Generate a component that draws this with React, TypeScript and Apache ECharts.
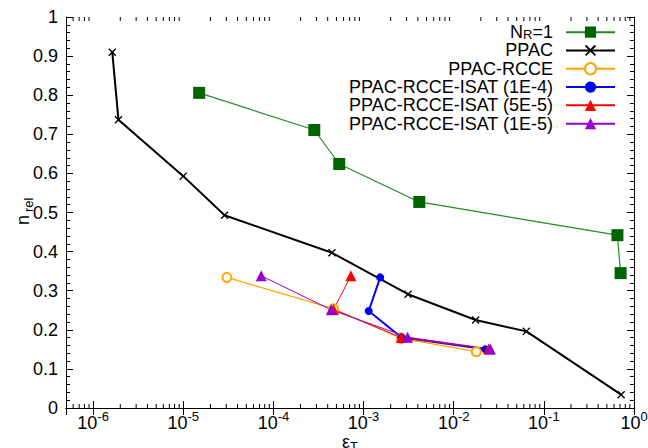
import React, { useEffect, useRef } from "react";
import * as echarts from "echarts";

const seriesNames = [
  "N_R=1",
  "PPAC",
  "PPAC-RCCE",
  "PPAC-RCCE-ISAT (1E-4)",
  "PPAC-RCCE-ISAT (5E-5)",
  "PPAC-RCCE-ISAT (1E-5)",
];

const nr1Eps = [1.5e-5, 2.84e-4, 5.37e-4, 4.15e-3, 0.655, 0.71];
const nr1Val = [0.806, 0.711, 0.624, 0.527, 0.442, 0.345];

const ppacEps = [1.63e-6, 1.91e-6, 1.0e-5, 2.87e-5, 4.46e-4, 3.11e-3, 0.0175, 0.064, 0.72];
const ppacVal = [0.91, 0.737, 0.593, 0.493, 0.397, 0.291, 0.225, 0.196, 0.034];

const rcceEps = [3.05e-5, 4.65e-4, 2.62e-3, 0.0178];
const rcceVal = [0.334, 0.254, 0.178, 0.144];

const isat1e4Eps = [1.53e-3, 1.14e-3, 2.62e-3, 0.0224];
const isat1e4Val = [0.334, 0.248, 0.181, 0.15];

const isat5e5Eps = [7.24e-4, 4.65e-4, 2.62e-3, 0.0244];
const isat5e5Val = [0.338, 0.252, 0.18, 0.151];

const isat1e5Eps = [7.32e-5, 4.38e-4, 3.08e-3, 0.0255];
const isat1e5Val = [0.338, 0.251, 0.181, 0.151];

const xMin = 5e-7;
const xMax = 1;

const FONT = "Liberation Sans, Arial, Helvetica, sans-serif";

function zip(xs: number[], ys: number[]) {
  return xs.map((x, i) => [x, ys[i]]);
}

const CROSS =
  "path://M0,1.2L1.2,0L5,3.8L8.8,0L10,1.2L6.2,5L10,8.8L8.8,10L5,6.2L1.2,10L0,8.8L3.8,5Z";

export default function App() {
  const ref = useRef<HTMLDivElement>(null);
  useEffect(() => {
    if (!ref.current) return;
    const chart = echarts.init(ref.current, null, { renderer: "svg" });

    const minorTicks: number[][] = [];
    for (let n = -7; n <= -1; n++) {
      for (let k = 2; k <= 9; k++) {
        const v = k * Math.pow(10, n);
        if (v > xMin && v < xMax) minorTicks.push([v, 0]);
      }
    }

    const logLabel = (v: number) => {
      const l = Math.log10(v);
      const r = Math.round(l);
      if (Math.abs(l - r) > 1e-6) return "";
      return `{b|10}{s|${r}}`;
    };

    const axisCommon = {
      axisLine: { show: true, lineStyle: { color: "#000", width: 1 } },
      axisTick: { show: true, inside: true, length: 7, lineStyle: { color: "#000" } },
      splitLine: { show: false },
    };

    const option: any = {
      animation: false,
      backgroundColor: "#fff",
      grid: { left: 66, right: 14, top: 17, bottom: 40, containLabel: false, outerBoundsMode: "none" },
      legend: {
        data: seriesNames,
        orient: "vertical",
        align: "right",
        right: 32,
        top: 23,
        padding: 0,
        itemGap: 0,
        itemWidth: 49,
        itemHeight: 14,
        textStyle: {
          fontFamily: FONT,
          fontSize: 18,
          color: "#000",
          lineHeight: 18.3,
          padding: [0, 8, 0, 0],
          rich: {
            a: { fontFamily: FONT, fontSize: 18, color: "#000", lineHeight: 18.3 },
            sub: { fontFamily: FONT, fontSize: 13, color: "#000", lineHeight: 14, padding: [4, 0, 0, 0] },
          },
        },
        formatter: (name: string) => (name === "N_R=1" ? "{a|N}{sub|R}{a|=1}" : name),
      },
      graphic: [
        {
          type: "group",
          x: 23,
          y: 212,
          rotation: Math.PI / 2,
          children: [
            {
              type: "text",
              x: -8,
              y: 0,
              style: {
                text: "n",
                font: `18px ${FONT}`,
                fill: "#000",
                align: "center",
                verticalAlign: "middle",
              },
            },
            {
              type: "text",
              x: 0,
              y: 5,
              style: {
                text: "rel",
                font: `13px ${FONT}`,
                fill: "#000",
                align: "left",
                verticalAlign: "middle",
              },
            },
          ],
        },
      ],
      xAxis: [
        {
          type: "log",
          min: xMin,
          max: xMax,
          splitNumber: 6,
          logBase: 10,
          ...axisCommon,
          axisLabel: {
            margin: 5,
            formatter: logLabel,
            rich: {
              b: { fontFamily: FONT, fontSize: 18, color: "#000", lineHeight: 20 },
              s: { fontFamily: FONT, fontSize: 13, color: "#000", lineHeight: 13, padding: [0, 0, 13, 0] },
            },
          },
          name: "{a|ε}{s|T}",
          nameLocation: "middle",
          nameGap: 22,
          nameMoveOverlap: false,
          nameTextStyle: {
            rich: {
              a: { fontFamily: FONT, fontSize: 18, color: "#000" },
              s: { fontFamily: FONT, fontSize: 13, color: "#000", padding: [10, 0, 0, 0] },
            },
          },
        },
        {
          type: "log",
          min: xMin,
          max: xMax,
          splitNumber: 6,
          logBase: 10,
          position: "top",
          ...axisCommon,
          axisLabel: { show: false },
        },
      ],
      yAxis: [
        {
          type: "value",
          min: 0,
          max: 1,
          interval: 0.1,
          ...axisCommon,
          minorTick: { show: true, splitNumber: 5, length: 4, lineStyle: { color: "#000" } },
          axisLabel: { fontFamily: FONT, fontSize: 18, color: "#000", margin: 8 },
        },
        {
          type: "value",
          min: 0,
          max: 1,
          interval: 0.1,
          position: "right",
          ...axisCommon,
          minorTick: { show: true, splitNumber: 5, length: 4, lineStyle: { color: "#000" } },
          axisLabel: { show: false },
        },
      ],
      series: [
        {
          type: "custom",
          name: "minorTicks",
          xAxisIndex: 0,
          yAxisIndex: 0,
          silent: true,
          data: minorTicks,
          renderItem: (params: any, api: any) => {
            const v = api.value(0);
            const b = api.coord([v, 0]);
            const t = api.coord([v, 1]);
            return {
              type: "group",
              children: [
                { type: "line", shape: { x1: b[0], y1: b[1], x2: b[0], y2: b[1] - 4 }, style: { stroke: "#000", lineWidth: 1 } },
                { type: "line", shape: { x1: t[0], y1: t[1], x2: t[0], y2: t[1] + 4 }, style: { stroke: "#000", lineWidth: 1 } },
              ],
            };
          },
        },
        {
          name: seriesNames[0],
          type: "line",
          data: zip(nr1Eps, nr1Val),
          symbol: "rect",
          symbolSize: 12,
          itemStyle: { color: "#006400" },
          lineStyle: { color: "#228B22", width: 1.2 },
        },
        {
          name: seriesNames[1],
          type: "line",
          data: zip(ppacEps, ppacVal),
          symbol: CROSS,
          symbolSize: 8,
          itemStyle: { color: "#000" },
          lineStyle: { color: "#000", width: 2 },
        },
        {
          name: seriesNames[2],
          type: "line",
          data: zip(rcceEps, rcceVal),
          symbol: "emptyCircle",
          symbolSize: 9,
          itemStyle: { color: "#FFA500", borderWidth: 1.2 },
          lineStyle: { color: "#FFA500", width: 1.2 },
        },
        {
          name: seriesNames[3],
          type: "line",
          data: zip(isat1e4Eps, isat1e4Val),
          symbol: "circle",
          symbolSize: 8,
          itemStyle: { color: "#0000FF" },
          lineStyle: { color: "#0000FF", width: 2 },
        },
        {
          name: seriesNames[4],
          type: "line",
          data: zip(isat5e5Eps, isat5e5Val),
          symbol: "triangle",
          symbolSize: 11,
          itemStyle: { color: "#FF0000" },
          lineStyle: { color: "#FF0000", width: 1 },
        },
        {
          name: seriesNames[5],
          type: "line",
          data: zip(isat1e5Eps, isat1e5Val),
          symbol: "triangle",
          symbolSize: 11,
          itemStyle: { color: "#9400D3" },
          lineStyle: { color: "#9400D3", width: 1 },
        },
      ],
    };
    chart.setOption(option);
    return () => chart.dispose();
  }, []);
  return <div ref={ref} style={{ width: 648, height: 448, position: "absolute", left: 0, top: 0 }} />;
}
